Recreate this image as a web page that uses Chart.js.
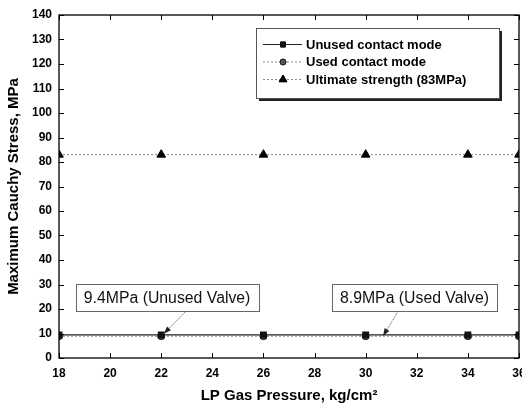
<!DOCTYPE html>
<html><head><meta charset="utf-8">
<script src="https://cdn.jsdelivr.net/npm/chart.js@4.4.1/dist/chart.umd.min.js"></script>
<style>html,body{margin:0;padding:0;background:#fff}#wrap{width:522px;height:409px}</style>
</head><body><div id="wrap"><canvas id="c" width="522" height="409"></canvas></div>
<script>
const pressures = [18, 22, 26, 30, 34, 36];
const unusedStress = [9.4, 9.4, 9.4, 9.4, 9.4, 9.4];
const usedStress = [8.9, 8.9, 8.9, 8.9, 8.9, 8.9];
const ultimateStress = [83, 83, 83, 83, 83, 83];
const seriesNames = ['Unused contact mode', 'Used contact mode', 'Ultimate strength (83MPa)'];
const xTicks = [18, 20, 22, 24, 26, 28, 30, 32, 34, 36];
const yTicks = [0, 10, 20, 30, 40, 50, 60, 70, 80, 90, 100, 110, 120, 130, 140];
const notes = [
  {text: '9.4MPa (Unused Valve)', cx: 22.23, cy: 24.5, fromX: 22.95, fromY: 18.9, toX: 22.1, toY: 9.9},
  {text: '8.9MPa (Used Valve)', cx: 31.91, cy: 24.5, fromX: 31.35, fromY: 20.4, toX: 30.68, toY: 9.0}
];

const pts = (ys) => pressures.map((x, i) => ({x, y: ys[i]}));
const FONT = '"Liberation Sans", Arial, sans-serif';

const framePlugin = {
  id: 'frame',
  afterDatasetsDraw(chart) {
    const {ctx, chartArea: a, scales: {x, y}} = chart;
    ctx.save();
    ctx.strokeStyle = '#000';
    ctx.lineWidth = 1.3;
    ctx.strokeRect(a.left, a.top, a.right - a.left, a.bottom - a.top);
    ctx.lineWidth = 1;
    const L = 5;
    ctx.beginPath();
    xTicks.forEach(v => {
      const px = Math.round(x.getPixelForValue(v)) + 0.5;
      ctx.moveTo(px, a.bottom); ctx.lineTo(px, a.bottom - L);
      ctx.moveTo(px, a.top); ctx.lineTo(px, a.top + L);
    });
    yTicks.forEach(v => {
      const py = Math.round(y.getPixelForValue(v)) + 0.5;
      ctx.moveTo(a.left, py); ctx.lineTo(a.left + L, py);
      ctx.moveTo(a.right, py); ctx.lineTo(a.right - L, py);
    });
    ctx.stroke();

    // annotations
    ctx.font = '15.8px ' + FONT;
    ctx.textBaseline = 'middle';
    ctx.textAlign = 'center';
    notes.forEach(n => {
      const cx = x.getPixelForValue(n.cx), cy = y.getPixelForValue(n.cy);
      const w = ctx.measureText(n.text).width + 16, h = 27;
      const fx = x.getPixelForValue(n.fromX), fy = y.getPixelForValue(n.fromY);
      const tx = x.getPixelForValue(n.toX), ty = y.getPixelForValue(n.toY);
      ctx.strokeStyle = '#777';
      ctx.lineWidth = 1;
      ctx.setLineDash([2, 1]);
      ctx.beginPath(); ctx.moveTo(fx, fy); ctx.lineTo(tx, ty); ctx.stroke();
      ctx.setLineDash([]);
      const ang = Math.atan2(ty - fy, tx - fx), al = 8;
      ctx.fillStyle = '#222';
      ctx.beginPath();
      ctx.moveTo(tx, ty);
      ctx.lineTo(tx - al * Math.cos(ang - 0.35), ty - al * Math.sin(ang - 0.35));
      ctx.lineTo(tx - al * Math.cos(ang + 0.35), ty - al * Math.sin(ang + 0.35));
      ctx.closePath(); ctx.fill();
      ctx.fillStyle = '#fff';
      ctx.fillRect(cx - w / 2, cy - h / 2, w, h);
      ctx.strokeStyle = '#666';
      ctx.strokeRect(Math.round(cx - w / 2) + 0.5, Math.round(cy - h / 2) + 0.5, Math.round(w), h);
      ctx.fillStyle = '#111';
      ctx.fillText(n.text, cx, cy + 1);
    });

    // legend
    const bx = 256, by = 28, bw = 243, bh = 70;
    ctx.fillStyle = '#222';
    ctx.fillRect(bx + 3, by + 3, bw, bh);
    ctx.fillStyle = '#fff';
    ctx.fillRect(bx, by, bw, bh);
    ctx.strokeStyle = '#555';
    ctx.lineWidth = 1;
    ctx.strokeRect(bx + 0.5, by + 0.5, bw, bh);
    ctx.font = 'bold 13px ' + FONT;
    ctx.textAlign = 'left';
    chart.data.datasets.forEach((ds, i) => {
      const ly = by + 16 + i * 17.5;
      ctx.strokeStyle = ds.borderColor;
      ctx.lineWidth = 1;
      ctx.setLineDash(ds.borderDash || []);
      ctx.beginPath(); ctx.moveTo(263, ly + 0.5); ctx.lineTo(302, ly + 0.5); ctx.stroke();
      ctx.setLineDash([]);
      Chart.helpers.drawPoint(ctx, {pointStyle: ds.pointStyle, radius: ds.pointRadius - 0.5, borderWidth: 1}, 283, ly + 0.5);
      ctx.fillStyle = ds.pointBackgroundColor;
      ctx.strokeStyle = ds.pointBorderColor;
      ctx.fill(); ctx.stroke();
      ctx.fillStyle = '#000';
      ctx.fillText(seriesNames[i], 306, ly + 1);
    });
    ctx.restore();
  }
};

new Chart(document.getElementById('c'), {
  type: 'line',
  data: {
    datasets: [
      {label: seriesNames[0], data: pts(unusedStress), borderColor: '#222', borderWidth: 1.2,
       pointStyle: 'rect', pointRadius: 4, pointBackgroundColor: '#111', pointBorderColor: '#111'},
      {label: seriesNames[1], data: pts(usedStress), borderColor: '#888', borderWidth: 1, borderDash: [2, 2],
       pointStyle: 'circle', pointRadius: 3.5, pointBackgroundColor: '#555', pointBorderColor: '#222'},
      {label: seriesNames[2], data: pts(ultimateStress), borderColor: '#888', borderWidth: 1, borderDash: [2, 2],
       pointStyle: 'triangle', pointRadius: 5, pointBackgroundColor: '#000', pointBorderColor: '#000'}
    ]
  },
  options: {
    responsive: false,
    animation: false,
    layout: {autoPadding: false, padding: {top: 15, right: 3, left: 0, bottom: 0}},
    plugins: {legend: {display: false}, tooltip: {enabled: false}},
    scales: {
      x: {
        type: 'linear', min: 18, max: 36,
        afterBuildTicks: s => { s.ticks = xTicks.map(v => ({value: v})); },
        afterFit: s => { s.height = 51; s.paddingRight = 0; s.paddingLeft = 0; },
        grid: {display: false, drawTicks: false}, border: {display: false},
        ticks: {color: '#000', padding: 8, font: {family: FONT, size: 12, weight: 'bold'}, maxRotation: 0},
        title: {display: true, text: 'LP Gas Pressure, kg/cm²', color: '#000', padding: {top: 8}, font: {family: FONT, size: 15, weight: 'bold'}}
      },
      y: {
        type: 'linear', min: 0, max: 140,
        afterBuildTicks: s => { s.ticks = yTicks.map(v => ({value: v})); },
        afterFit: s => { s.width = 59; },
        grid: {display: false, drawTicks: false}, border: {display: false},
        ticks: {color: '#000', padding: 7, font: {family: FONT, size: 12, weight: 'bold'}},
        title: {display: true, text: 'Maximum Cauchy Stress, MPa', color: '#000', padding: {top: 5, bottom: 0}, font: {family: FONT, size: 15, weight: 'bold'}}
      }
    }
  },
  plugins: [framePlugin]
});
</script></body></html>
